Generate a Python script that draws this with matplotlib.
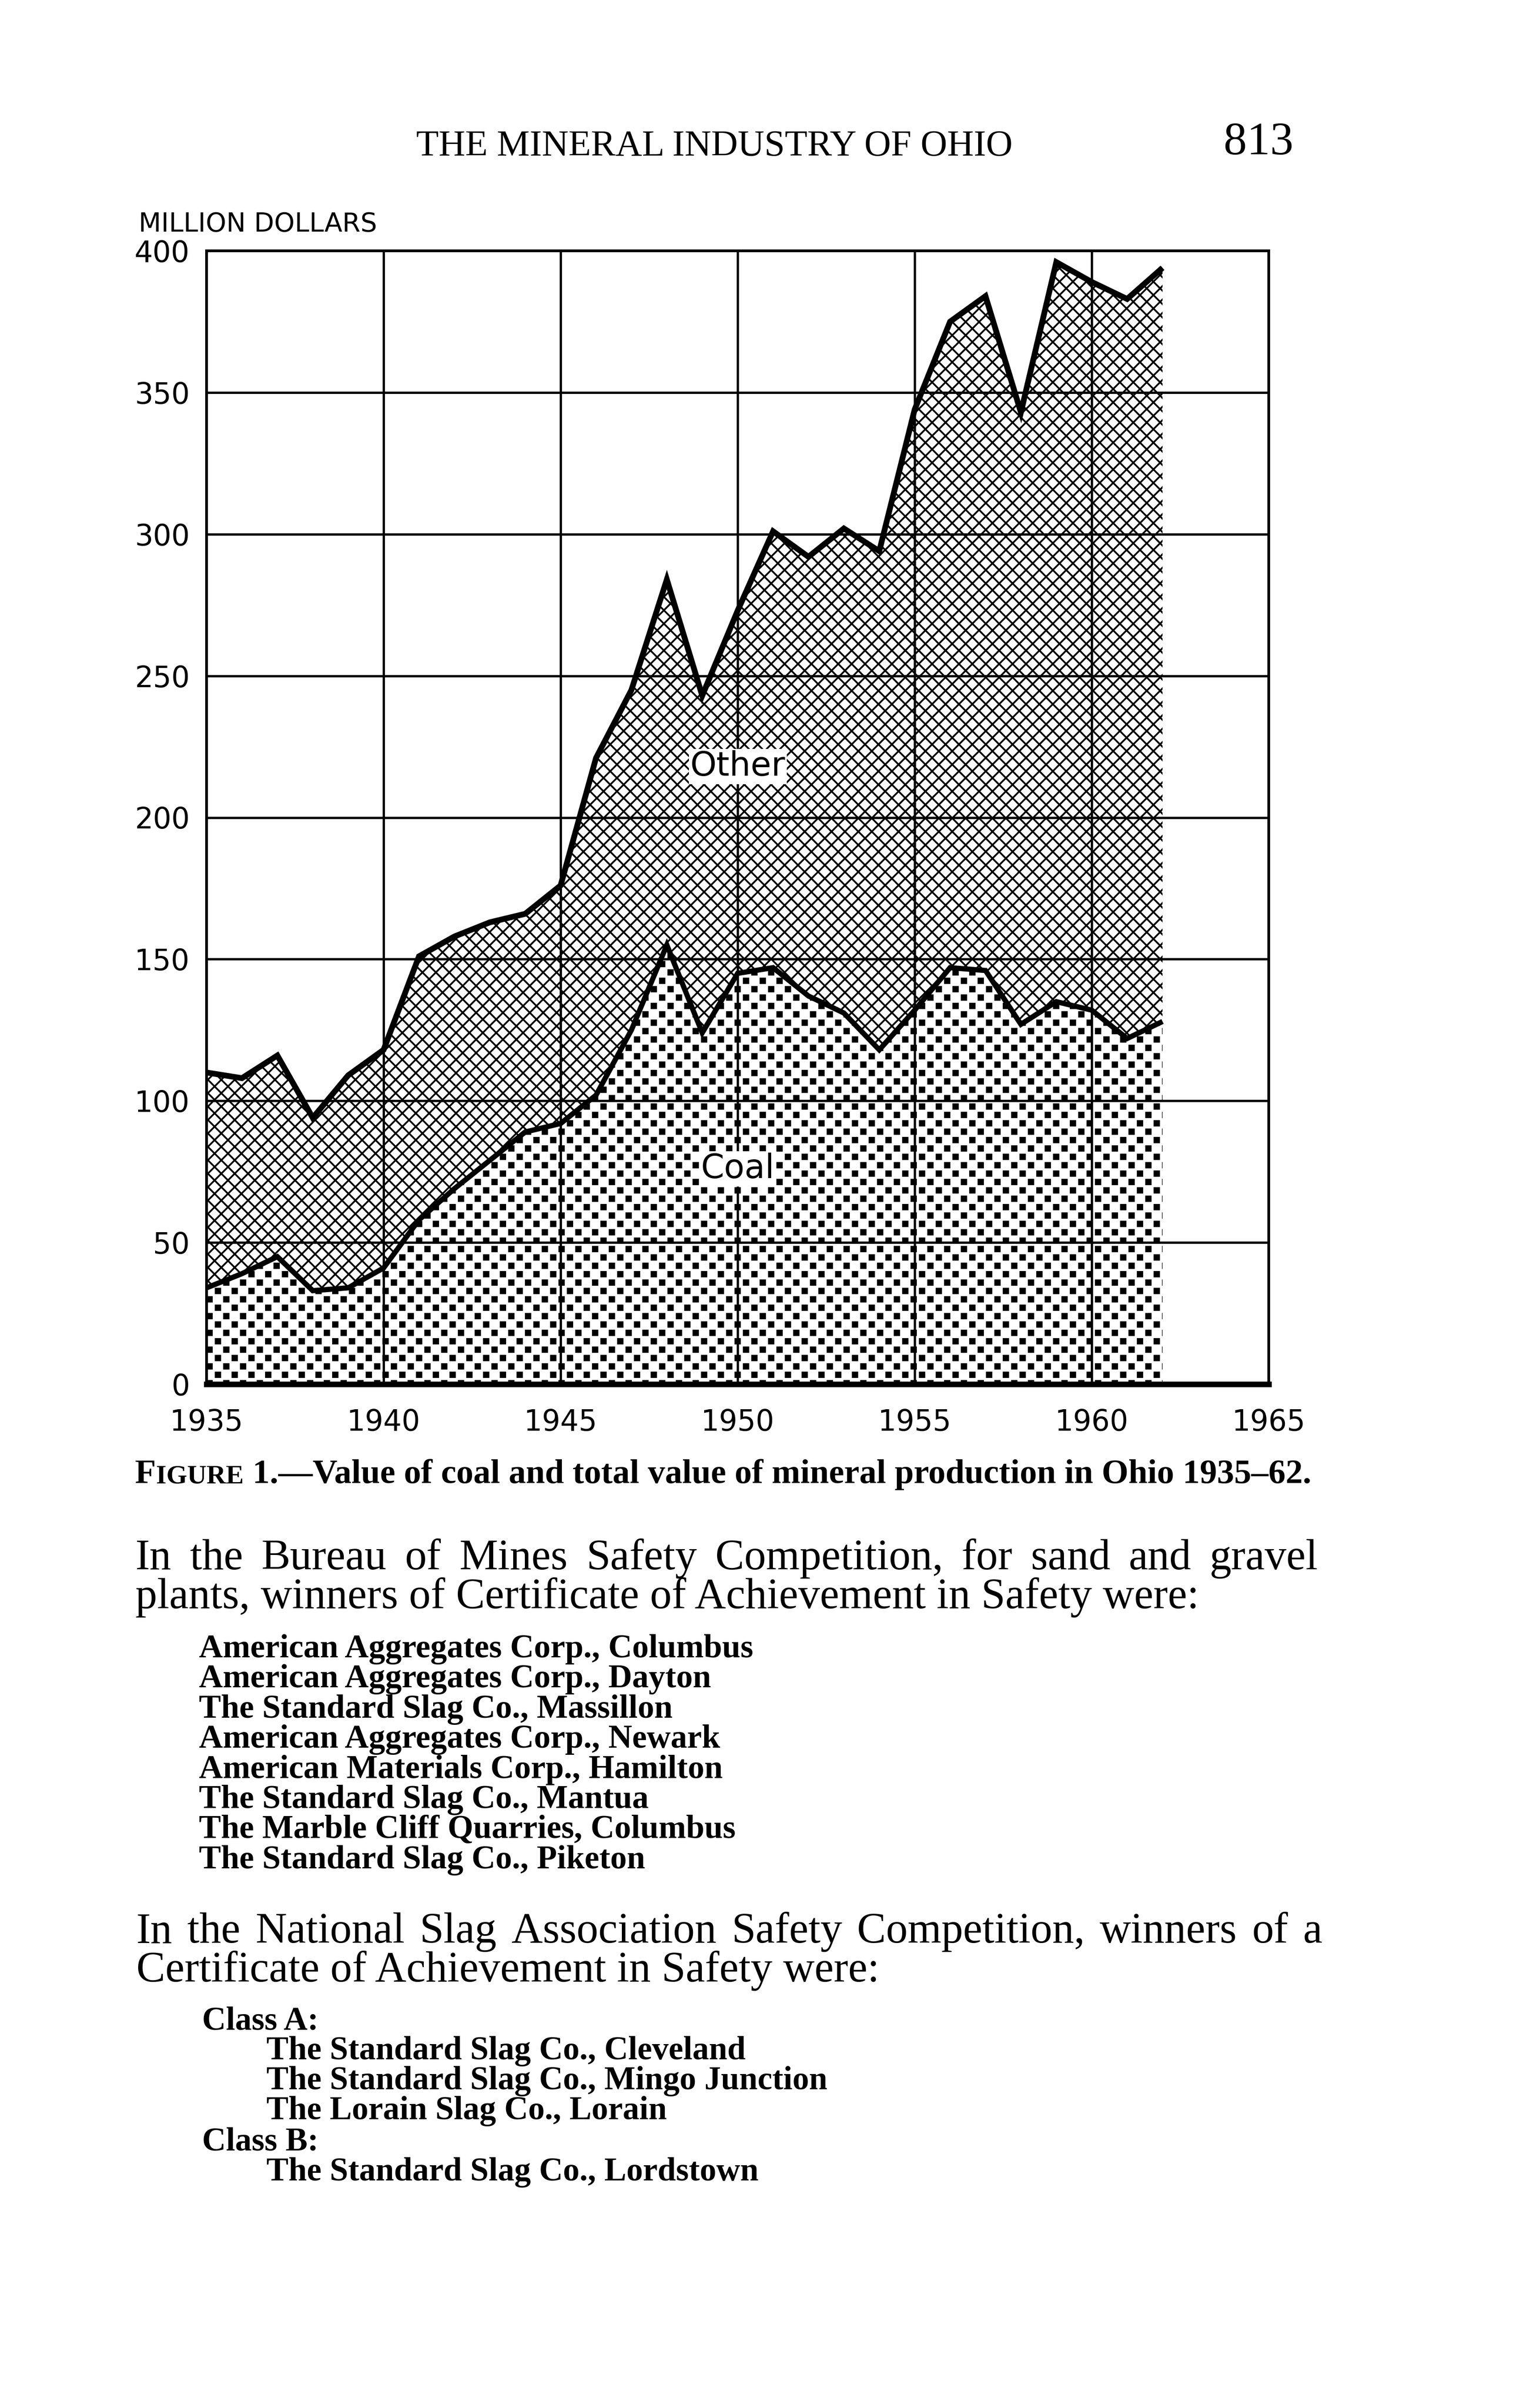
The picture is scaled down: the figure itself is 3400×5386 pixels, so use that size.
import numpy as np
import matplotlib
matplotlib.use("Agg")
import matplotlib.pyplot as plt
import matplotlib.hatch as mhatch
from matplotlib.path import Path

# ---------------- data ----------------
years = list(range(1935, 1963))
total_value = [110, 108, 116, 94, 109, 118, 151, 158, 163, 166, 176, 221, 245, 284,
               243, 273, 301, 292, 302, 294, 344, 375, 384, 343, 396, 389, 383, 394]
coal_value = [34, 39, 45, 33, 34, 41, 58, 69, 79, 89, 92, 102, 125, 155,
              124, 145, 147, 137, 131, 118, 132, 147, 146, 127, 135, 132, 122, 128]
x_ticks = [1935, 1940, 1945, 1950, 1955, 1960, 1965]
x_ticklabels = [str(v) for v in x_ticks]
y_ticks = [0, 50, 100, 150, 200, 250, 300, 350, 400]
y_ticklabels = [str(v) for v in y_ticks]
series_labels = ["Other", "Coal"]
label_pos = [(1950, 218), (1950, 76)]

header_title = "THE MINERAL INDUSTRY OF OHIO"
page_number = "813"
y_axis_title = "MILLION DOLLARS"
caption_parts = ["F", "IGURE",
                 "1.\u2014Value of coal and total value of mineral production in Ohio 1935\u201362."]
para1 = ["In the Bureau of Mines Safety Competition, for sand and gravel",
         "plants, winners of Certificate of Achievement in Safety were:"]
list1 = ["American Aggregates Corp., Columbus",
         "American Aggregates Corp., Dayton",
         "The Standard Slag Co., Massillon",
         "American Aggregates Corp., Newark",
         "American Materials Corp., Hamilton",
         "The Standard Slag Co., Mantua",
         "The Marble Cliff Quarries, Columbus",
         "The Standard Slag Co., Piketon"]
para2 = ["In the National Slag Association Safety Competition, winners of a",
         "Certificate of Achievement in Safety were:"]
class_a_title = "Class A:"
class_a = ["The Standard Slag Co., Cleveland",
           "The Standard Slag Co., Mingo Junction",
           "The Lorain Slag Co., Lorain"]
class_b_title = "Class B:"
class_b = ["The Standard Slag Co., Lordstown"]


# ---------------- custom hatch textures ----------------
class CrossHatch(mhatch.HatchPatternBase):
    lines_per_tile = 5

    def __init__(self, hatch, density):
        self.n = hatch.count('x') * self.lines_per_tile
        self.num_vertices = 4 * (2 * self.n + 1) if self.n else 0

    def set_vertices_and_codes(self, vertices, codes):
        n = self.n
        c = np.arange(-n, n + 1) / n
        e = 0.05
        ne = np.empty((2 * n + 1, 2, 2))
        ne[:, 0, 0] = c - e
        ne[:, 0, 1] = -e
        ne[:, 1, 0] = c + 1 + e
        ne[:, 1, 1] = 1 + e
        d = c + 1
        nw = np.empty_like(ne)
        nw[:, 0, 0] = d + e
        nw[:, 0, 1] = -e
        nw[:, 1, 0] = d - 1 - e
        nw[:, 1, 1] = 1 + e
        vertices[:] = np.concatenate([ne.reshape(-1, 2), nw.reshape(-1, 2)])
        codes[0::2] = Path.MOVETO
        codes[1::2] = Path.LINETO


class SquareDots(mhatch.HatchPatternBase):
    cols = 4
    rows = 8
    half = 0.034

    def __init__(self, hatch, density):
        if hatch.count('.') > 0:
            pts = []
            for r in range(self.rows + 1):
                off = 0.5 / self.cols if r % 2 else 0.0
                for i in range(-1, self.cols + 1):
                    pts.append((i / self.cols + off, r / self.rows))
            self.pts = np.array(pts)
            self.num_vertices = len(pts) * 5
        else:
            self.num_vertices = 0

    def set_vertices_and_codes(self, vertices, codes):
        h = self.half
        sq = np.array([[-h, -h], [h, -h], [h, h], [-h, h], [-h, -h]])
        vertices[:] = (self.pts[:, None, :] + sq[None]).reshape(-1, 2)
        codes[:] = np.tile([Path.MOVETO, Path.LINETO, Path.LINETO,
                            Path.LINETO, Path.CLOSEPOLY], len(self.pts))


mhatch._hatch_types[:] = [CrossHatch, SquareDots]

plt.rcParams['hatch.linewidth'] = 1.9
plt.rcParams['hatch.color'] = 'black'

# ---------------- figure ----------------
W, H = 3400, 5386
DPI = 150
fig = plt.figure(figsize=(W / DPI, H / DPI), dpi=DPI, facecolor='white')


def fx(x):
    return x / W


def fy(y):
    return 1 - y / H


ax_l, ax_r, ax_t, ax_b = 462, 2838, 561, 3096
ax = fig.add_axes([fx(ax_l), fy(ax_b), (ax_r - ax_l) / W, (ax_b - ax_t) / H])
ax.set_facecolor('white')

ax.fill_between(years, 0, coal_value, facecolor='white', edgecolor='black',
                hatch='.', linewidth=0, zorder=1)
ax.fill_between(years, coal_value, total_value, facecolor='white',
                edgecolor='black', hatch='x', linewidth=0, zorder=1)

ax.plot(years, total_value, color='black', lw=6.2, zorder=3,
        solid_joinstyle='miter', solid_capstyle='butt')
ax.plot(years, coal_value, color='black', lw=5.6, zorder=3,
        solid_joinstyle='miter', solid_capstyle='butt')

ax.set_xlim(1935, 1965)
ax.set_ylim(0, 400)
ax.set_xticks(x_ticks)
ax.set_xticklabels(x_ticklabels)
ax.set_yticks(y_ticks)
ax.set_yticklabels(y_ticklabels)
ax.set_axisbelow(False)
ax.grid(True, color='black', linewidth=2.5)
ax.tick_params(axis='both', length=0, labelsize=31)
ax.tick_params(axis='x', pad=26)
ax.tick_params(axis='y', pad=18)
for lab in ax.get_xticklabels() + ax.get_yticklabels():
    lab.set_family('DejaVu Sans')
for s in ['top', 'left', 'right']:
    ax.spines[s].set_linewidth(2.9)
ax.spines['bottom'].set_linewidth(6.0)

for lab, (lx, ly) in zip(series_labels, label_pos):
    ax.text(lx, ly, lab, ha='center', va='center', fontsize=36,
            family='DejaVu Sans', zorder=4,
            bbox=dict(facecolor='white', edgecolor='none', pad=1.5))

# ---------------- page texts ----------------
R = fig.canvas.get_renderer()


def text_width(s, size, **kw):
    t = fig.text(0, 0, s, fontsize=size, **kw)
    w = t.get_window_extent(R).width
    t.remove()
    return w


def fit(s, target, **kw):
    return 40 * target / text_width(s, 40, **kw)


def put(x, y, s, size, **kw):
    return fig.text(fx(x), fy(y), s, fontsize=size, va='baseline', **kw)


def justified(line, x0, x1, y, size, **kw):
    words = line.split(' ')
    widths = [text_width(w, size, **kw) for w in words]
    gap = (x1 - x0 - sum(widths)) / (len(words) - 1)
    x = x0
    for w, wd in zip(words, widths):
        put(x, y, w, size, ha='left', **kw)
        x += wd + gap


serif = dict(family='Liberation Serif')
serif_b = dict(family='Liberation Serif', weight='bold')

# header
hs = fit(header_title, 1335, **serif)
put(1598, 348, header_title, hs, ha='center', **serif)
put(2893, 345, page_number, 50, ha='right', **serif)

# axis title
put(310, 518, y_axis_title, 28, ha='left', family='DejaVu Sans')

# caption
base = 30
pt2px = DPI / 72.0
w0 = text_width(caption_parts[0], base, **serif_b)
w1 = text_width(caption_parts[1], base * 0.78, **serif_b)
w2 = text_width(caption_parts[2], base, **serif_b)
gap = 0.25 * base * pt2px
cs = base * 2634 / (w0 + w1 + gap + w2)
k = cs / base
x = 302
put(x, 3317, caption_parts[0], cs, ha='left', **serif_b)
x += w0 * k
put(x, 3317, caption_parts[1], cs * 0.78, ha='left', **serif_b)
x += w1 * k + gap * k
put(x, 3317, caption_parts[2], cs, ha='left', **serif_b)

# paragraph 1
ps = fit(para1[1], 2380, **serif)
justified(para1[0], 303, 2948, 3510, ps, **serif)
put(303, 3597, para1[1], ps, ha='left', **serif)

# list 1
bs = fit(list1[0], 1241, **serif_b)
for i, item in enumerate(list1):
    put(445, 3707 + i * 67.4, item, bs, ha='left', **serif_b)

# paragraph 2
justified(para2[0], 305, 2958, 4345, ps, **serif)
put(305, 4432, para2[1], ps, ha='left', **serif)

# class lists
put(452, 4540, class_a_title, bs, ha='left', **serif_b)
for i, item in enumerate(class_a):
    put(596, 4606 + i * 67, item, bs, ha='left', **serif_b)
put(452, 4810, class_b_title, bs, ha='left', **serif_b)
for i, item in enumerate(class_b):
    put(596, 4877 + i * 67, item, bs, ha='left', **serif_b)

fig.savefig("out.png", dpi=DPI, facecolor='white')
